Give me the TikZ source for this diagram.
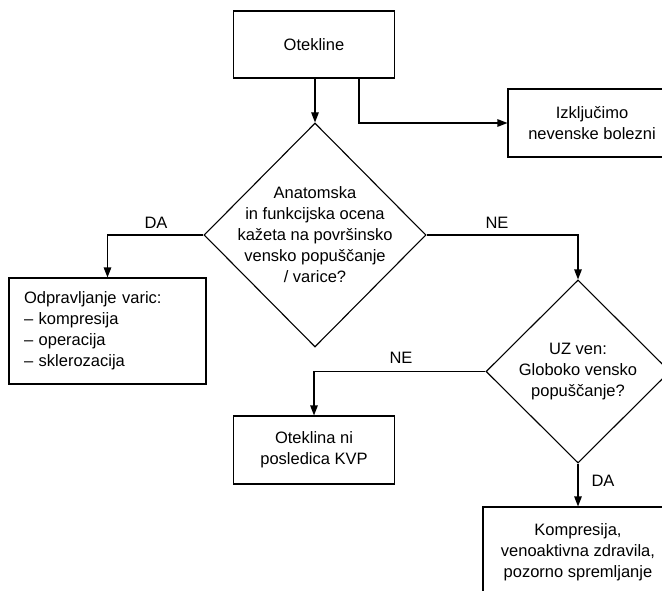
\documentclass[tikz,border=0pt]{standalone}
\usepackage{fontspec}
\setmainfont{Liberation Sans}
\usetikzlibrary{arrows.meta,shapes.geometric}
\begin{document}
\begin{tikzpicture}[x=1pt,y=-1pt,
  font=\fontsize{16.5}{21}\selectfont,
  line width=1.1pt,
  box/.style={draw,rectangle,align=center,inner sep=0pt},
  dia/.style={draw,diamond,inner sep=0pt},
  arr/.style={-{Triangle[length=10pt,width=7.5pt]}},
  lbl/.style={inner sep=0pt}
]
\useasboundingbox (0,0) rectangle (662,591);
\clip (0,0) rectangle (662,591);
\node[box,minimum width=161pt,minimum height=67pt] (otek) at (314,44.5) {Otekline};
\node[box,minimum width=168pt,minimum height=68pt] (izk) at (592,123) {Izključimo\\nevenske bolezni};
\node[dia,minimum width=222pt,minimum height=224pt,
  label={[align=center,inner sep=0pt]center:{Anatomska\\in funkcijska ocena\\kažeta na površinsko\\vensko popuščanje\\/ varice?}}] (d1) at (315,235) {};
\node[box,minimum width=197pt,minimum height=106pt,text width=167pt,align=left,inner xsep=15pt] (odp) at (107.5,331)
  {Odpravljanje varic:\\– kompresija\\– operacija\\– sklerozacija};
\node[dia,minimum width=184pt,minimum height=183pt,
  label={[align=center,inner sep=0pt]center:{UZ ven:\\Globoko vensko\\popuščanje?}}] (d2) at (578,371.5) {};
\node[box,minimum width=161pt,minimum height=68pt] (otk2) at (314,450) {Oteklina ni\\posledica KVP};
\node[box,minimum width=190pt,minimum height=90pt] (komp) at (578,552) {Kompresija,\\venoaktivna zdravila,\\pozorno spremljanje};
\draw[arr] (otek.south -| d1.north) -- (d1.north);
\draw[arr] ([xshift=45pt]otek.south) |- (izk.west);
\draw[arr] (d1.west) -| (odp.north);
\draw[arr] (d1.east) -| (d2.north);
\draw[arr] (d2.west) -| (otk2.north);
\draw[arr] (d2.south) -- (komp.north);
\node[lbl] (da1) at (156,223) {DA};
\node[lbl] (ne1) at (497,223) {NE};
\node[lbl] (ne2) at (401,358) {NE};
\node[lbl] (da2) at (603,481) {DA};
\end{tikzpicture}
\end{document}
